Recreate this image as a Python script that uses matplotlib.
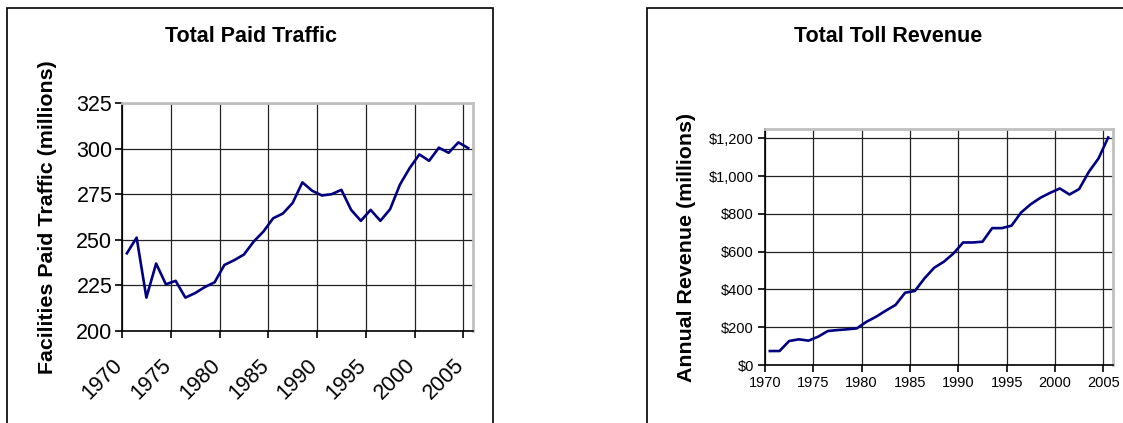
import matplotlib
matplotlib.use('Agg')
import matplotlib.pyplot as plt
import matplotlib.transforms as mtransforms
from matplotlib.patches import Rectangle
from matplotlib.ticker import FuncFormatter

plt.rcParams['font.family'] = ['Liberation Sans', 'DejaVu Sans']

years = list(range(1970, 2006))

traffic = [242.6, 251.2, 218.3, 237.0, 225.6, 227.5, 218.3, 220.8, 224.1, 226.7,
           236.2, 238.8, 241.9, 249.0, 254.5, 261.8, 264.4, 270.2, 281.5, 276.9,
           274.3, 275.0, 277.4, 266.4, 260.4, 266.4, 260.4, 266.8, 280.2, 289.3,
           296.8, 293.3, 300.5, 297.7, 303.4, 300.3]

revenue = [74, 74, 127, 136, 129, 150, 180, 185, 189, 194,
           229, 256, 288, 318, 383, 392, 459, 515, 547, 591,
           649, 649, 653, 725, 725, 738, 808, 852, 886, 912,
           935, 903, 932, 1023, 1094, 1205]

year_ticks = [1970, 1975, 1980, 1985, 1990, 1995, 2000, 2005]
traffic_ticks = [200, 225, 250, 275, 300, 325]
revenue_ticks = [0, 200, 400, 600, 800, 1000, 1200]

W, H = 1123, 423
fig = plt.figure(figsize=(W / 100, H / 100), dpi=100)

# outer chart boxes
fig.patches.append(Rectangle((7 / W, -0.1), 486 / W, 1.1 - 8 / H,
                             transform=fig.transFigure, fill=False,
                             edgecolor='black', linewidth=1.2))
fig.patches.append(Rectangle((647 / W, -0.1), 0.6, 1.1 - 8 / H,
                             transform=fig.transFigure, fill=False,
                             edgecolor='black', linewidth=1.2))


def style(ax):
    ax.grid(True, color='#222222', linewidth=0.9)
    ax.set_axisbelow(True)
    for s in ['top', 'right']:
        ax.spines[s].set_color('#c0c0c0')
        ax.spines[s].set_linewidth(2)
    for s in ['left', 'bottom']:
        ax.spines[s].set_color('black')
        ax.spines[s].set_linewidth(1.2)
    ax.tick_params(direction='out', length=5, width=1.2)


xs = [y + 0.5 for y in years]

# left chart
ax1 = fig.add_axes([122 / W, 1 - 331 / H, 351 / W, 228 / H])
ax1.plot(xs, traffic, color='#000080', linewidth=1.9, clip_on=False)
ax1.set_xlim(1970, 2006)
ax1.set_ylim(200, 325)
ax1.set_xticks(year_ticks)
ax1.set_yticks(traffic_ticks)
style(ax1)
ax1.tick_params(axis='y', labelsize=15.5, pad=2)
ax1.tick_params(axis='x', labelsize=15.5, pad=12)
shift = mtransforms.ScaledTranslation(-10 / 100, 0, fig.dpi_scale_trans)
for lab in ax1.get_xticklabels():
    lab.set_rotation(45)
    lab.set_ha('right')
    lab.set_rotation_mode('anchor')
    lab.set_transform(lab.get_transform() + shift)
fig.text(251 / W, 1 - 36 / H, 'Total Paid Traffic', ha='center', va='center',
         fontsize=15.5, fontweight='bold')
fig.text(48 / W, 1 - 217 / H, 'Facilities Paid Traffic (millions)',
         rotation=90, ha='center', va='center', fontsize=15.4, fontweight='bold')

# right chart
ax2 = fig.add_axes([765 / W, 1 - 365 / H, 348 / W, 236 / H])
ax2.plot(xs, revenue, color='#000080', linewidth=1.9, clip_on=False)
ax2.set_xlim(1970, 2006)
ax2.set_ylim(0, 1250)
ax2.set_xticks(year_ticks)
ax2.set_yticks(revenue_ticks)
ax2.yaxis.set_major_formatter(FuncFormatter(lambda v, p: '${:,.0f}'.format(v)))
style(ax2)
ax2.tick_params(axis='both', labelsize=10.5, pad=3)
fig.text(888 / W, 1 - 36 / H, 'Total Toll Revenue', ha='center', va='center',
         fontsize=15.5, fontweight='bold')
fig.text(686 / W, 1 - 247 / H, 'Annual Revenue (millions)',
         rotation=90, ha='center', va='center', fontsize=15.4, fontweight='bold')

fig.savefig('out.png', dpi=100)
